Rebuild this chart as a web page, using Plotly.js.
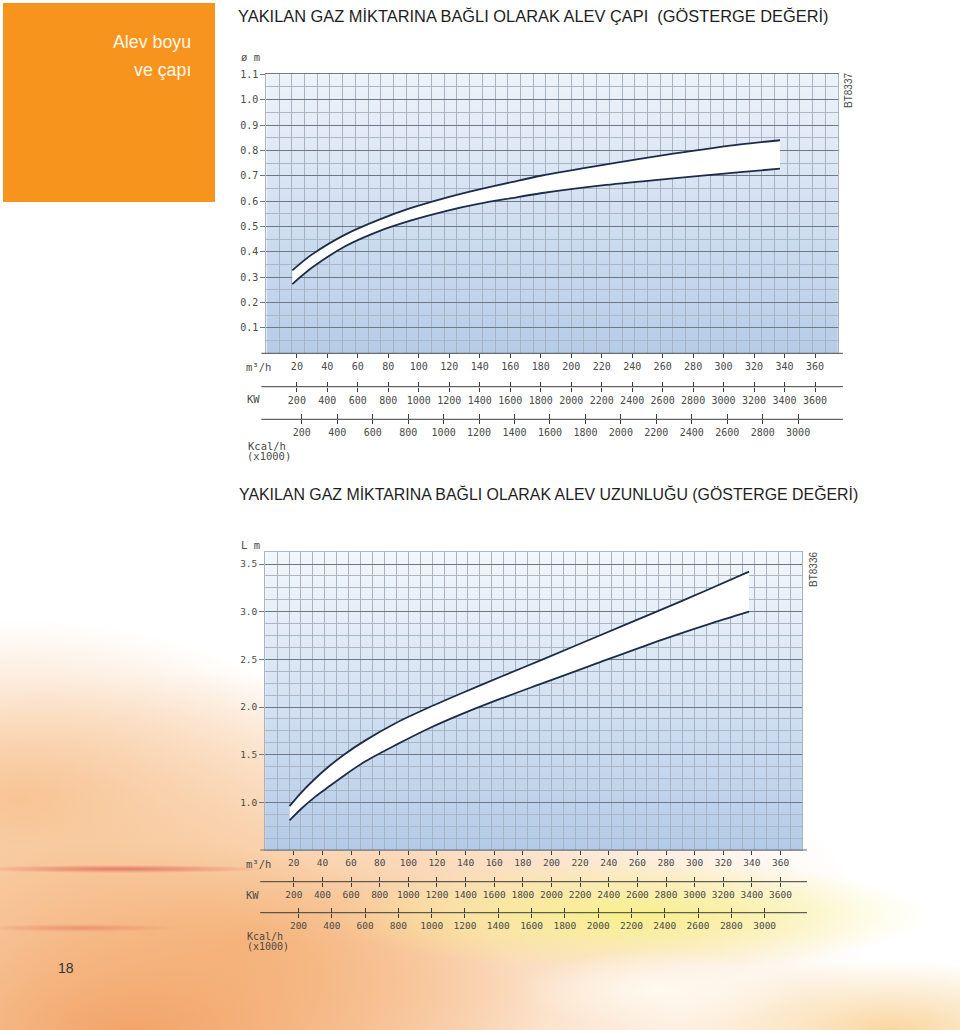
<!DOCTYPE html>
<html>
<head>
<meta charset="utf-8">
<script src="https://cdn.plot.ly/plotly-3.0.1.min.js"></script>
<style>
html,body{margin:0;padding:0;background:#fff;}
#page{position:relative;width:960px;height:1030px;overflow:hidden;background:#fff;}
#flame{position:absolute;left:0;top:0;width:960px;height:1030px;
background:
 radial-gradient(ellipse 150px 4px at 120px 869px, rgba(226,108,92,0.85), rgba(226,108,92,0) 100%),
 radial-gradient(ellipse 100px 4px at 80px 928px, rgba(230,125,100,0.65), rgba(230,125,100,0) 100%),
 radial-gradient(ellipse 140px 40px at 660px 990px, rgba(255,250,240,0.95), rgba(255,250,240,0) 100%),
 radial-gradient(ellipse 300px 55px at 630px 915px, rgba(248,240,140,1), rgba(248,240,140,0) 100%),
 radial-gradient(ellipse 220px 70px at 890px 1030px, rgba(249,212,155,0.95), rgba(249,212,155,0) 100%),
 radial-gradient(ellipse 420px 200px at 130px 1040px, rgba(242,162,100,1), rgba(242,162,100,0) 100%),
 radial-gradient(ellipse 620px 270px at 250px 940px, rgba(247,192,140,1), rgba(247,192,140,0) 100%),
 radial-gradient(ellipse 330px 180px at 20px 800px, rgba(247,198,152,1), rgba(247,198,152,0) 100%),
 #ffffff;}
#chart{position:absolute;left:0;top:0;width:960px;height:1030px;}
</style>
</head>
<body>
<div id="page"><div id="flame"></div><div id="chart"></div></div>
<script>
// ---------- data ----------
const flowTicks = [20,40,60,80,100,120,140,160,180,200,220,240,260,280,300,320,340,360];
const kwTicks = [200,400,600,800,1000,1200,1400,1600,1800,2000,2200,2400,2600,2800,3000,3200,3400,3600];
const kcalTicks = [200,400,600,800,1000,1200,1400,1600,1800,2000,2200,2400,2600,2800,3000];
const diameterTicks = [0.1,0.2,0.3,0.4,0.5,0.6,0.7,0.8,0.9,1.0,1.1];
const lengthTicks = [1.0,1.5,2.0,2.5,3.0,3.5];

// flame diameter (m) vs gas flow (m3/h)
const diaFlow  = [17, 30, 52, 74, 95, 117, 139, 161, 180, 223, 267, 311, 337];
const diaUpper = [0.327, 0.390, 0.469, 0.527, 0.573, 0.612, 0.645, 0.675, 0.700, 0.745, 0.787, 0.824, 0.840];
const diaLower = [0.273, 0.338, 0.423, 0.482, 0.524, 0.560, 0.589, 0.612, 0.631, 0.664, 0.690, 0.714, 0.728];

// flame length (m) vs gas flow (m3/h)
const lenFlow  = [17, 25, 35, 44, 55, 70, 91, 115, 138, 165, 194, 232, 278, 310, 338];
const lenUpper = [0.96, 1.10, 1.25, 1.37, 1.50, 1.65, 1.83, 2.00, 2.15, 2.32, 2.50, 2.74, 3.03, 3.235, 3.42];
const lenLower = [0.81, 0.93, 1.06, 1.16, 1.28, 1.43, 1.60, 1.78, 1.93, 2.09, 2.25, 2.46, 2.71, 2.87, 3.00];

// unit conversions for the secondary scales
const KW_PER_FLOW = 10;            // kW per m3/h of gas
const KCAL_PER_FLOW = 10 / 1.163;  // (x1000 kcal/h) per m3/h
const FLOW_RANGE = [0, 375];
const GRID_STEP = 25 / 3;

// ---------- styling / layout ----------
const W = 960, H = 1030;
const px = v => v / W;
const py = v => 1 - v / H;
const MONO = 'DejaVu Sans Mono, Liberation Mono, monospace';
const SANS = 'Liberation Sans, Arial, Helvetica, sans-serif';
const VGRID = '#a7b3c1', MGRID = '#abb7c4', HGRID = '#6e7986';
const AXIS = '#3c3c3c', LABEL = '#4a4a4a', CURVE = '#1d2c46';

function gradSrc(c1, c2) {
  const svg = '<svg xmlns="http://www.w3.org/2000/svg" width="20" height="200" viewBox="0 0 20 200" preserveAspectRatio="none">' +
    '<defs><linearGradient id="g" x1="0" y1="0" x2="0" y2="1">' +
    '<stop offset="0" stop-color="' + c1 + '"/><stop offset="1" stop-color="' + c2 + '"/>' +
    '</linearGradient></defs><rect width="20" height="200" fill="url(#g)"/></svg>';
  return 'data:image/svg+xml;charset=utf-8,' + encodeURIComponent(svg);
}

const charts = [
  {x0: 266.4, x1: 837.9, top: 74.3, bottom: 353.3, yRange: [0, 1.1], yTicks: diameterTicks, yMinor: 0.05,
   kwLine: 386.7, kcalLine: 419.3, font: 10, flow: diaFlow, upper: diaUpper, lower: diaLower,
   c1: '#eef3fa', c2: '#b5cce8', edge: HGRID},
  {x0: 265.2, x1: 802.0, top: 552.1, bottom: 850.0, yRange: [0.5, 3.625], yTicks: lengthTicks, yMinor: 0.125,
   kwLine: 881.7, kcalLine: 912.7, font: 9.5, flow: lenFlow, upper: lenUpper, lower: lenLower,
   c1: '#f3f7fc', c2: '#b3cbe8', edge: MGRID}
];

const layout = {
  width: W, height: H, margin: {l: 0, r: 0, t: 0, b: 0},
  paper_bgcolor: 'rgba(0,0,0,0)', plot_bgcolor: 'rgba(0,0,0,0)',
  showlegend: false, hovermode: false,
  shapes: [], annotations: [], images: []
};
const traces = [];
const xName = n => n === 1 ? 'xaxis' : 'xaxis' + n;
const xId = n => n === 1 ? 'x' : 'x' + n;

function hline(y, xa, xb, color, width) {
  layout.shapes.push({type: 'line', xref: 'paper', yref: 'paper', x0: px(xa), x1: px(xb), y0: py(y), y1: py(y),
    line: {color: color, width: width}, layer: 'above'});
}

charts.forEach((c, i) => {
  const gx = i * 6 + 1;
  const yName = i === 0 ? 'yaxis' : 'yaxis' + (i + 1);
  const yId = i === 0 ? 'y' : 'y' + (i + 1);
  const tf = {family: MONO, size: c.font, color: LABEL};
  const common = {showgrid: false, zeroline: false, fixedrange: true};
  // invisible carrier so that every secondary scale is drawn
  const carrier = (axisNum, vals) => traces.push({
    x: vals, y: vals.map(() => null), xaxis: xId(axisNum), yaxis: yId,
    type: 'scatter', mode: 'markers', marker: {opacity: 0}, hoverinfo: 'skip', showlegend: false
  });

  layout[xName(gx)] = Object.assign({}, common, {
    domain: [px(c.x0), px(c.x1)], range: FLOW_RANGE, anchor: yId,
    tickmode: 'linear', tick0: 0, dtick: GRID_STEP, showgrid: true, gridcolor: VGRID, gridwidth: 1,
    showticklabels: false, ticks: '', showline: true, mirror: true, linecolor: c.edge, linewidth: 1
  });
  layout[xName(gx + 1)] = Object.assign({}, common, {
    overlaying: xId(gx), anchor: yId, side: 'bottom', range: FLOW_RANGE,
    tickmode: 'array', tickvals: flowTicks, ticktext: flowTicks.map(String),
    ticks: 'outside', ticklen: 4, tickcolor: AXIS, tickwidth: 1,
    showline: false, tickfont: tf
  });
  carrier(gx + 1, flowTicks);
  hline(c.bottom, c.x0 - 5, c.x1 + 5, '#6a6a6a', 1.2);
  const kwRange = FLOW_RANGE.map(v => v * KW_PER_FLOW);
  const kcalRange = FLOW_RANGE.map(v => v * KCAL_PER_FLOW);
  [[kwRange, kwTicks, c.kwLine, gx + 2], [kcalRange, kcalTicks, c.kcalLine, gx + 4]].forEach(a => {
    layout[xName(a[3])] = Object.assign({}, common, {
      overlaying: xId(gx), anchor: 'free', position: py(a[2]), side: 'bottom', range: a[0],
      tickmode: 'array', tickvals: a[1], ticks: 'inside', ticklen: 5, tickcolor: AXIS, tickwidth: 1,
      showticklabels: false, showline: false
    });
    layout[xName(a[3] + 1)] = Object.assign({}, common, {
      overlaying: xId(gx), anchor: 'free', position: py(a[2]), side: 'bottom', range: a[0],
      tickmode: 'array', tickvals: a[1], ticktext: a[1].map(String), ticks: 'outside', ticklen: 4,
      tickcolor: AXIS, tickwidth: 1, showticklabels: true, showline: false, tickfont: tf
    });
    carrier(a[3], a[1]);
    carrier(a[3] + 1, a[1]);
    hline(a[2], c.x0 - 5, c.x1 + 5, AXIS, 1);
  });
  // minor horizontal grid positions that do not coincide with the labelled lines
  const minorVals = [];
  for (let k = 1; c.yRange[0] + k * c.yMinor < c.yRange[1] - 1e-9; k++) {
    const v = +(c.yRange[0] + k * c.yMinor).toFixed(4);
    const isMajor = c.yTicks.some(t => Math.abs(t - v) < 1e-6);
    if (!isMajor) minorVals.push(v);
  }
  layout[yName] = {
    domain: [py(c.bottom), py(c.top)], range: c.yRange, anchor: xId(gx), fixedrange: true,
    tickmode: 'array', tickvals: c.yTicks, ticktext: c.yTicks.map(v => v.toFixed(1)),
    ticks: 'outside', ticklen: 5, tickcolor: HGRID, tickwidth: 1,
    showgrid: true, gridcolor: HGRID, gridwidth: 1,
    minor: {tickmode: 'array', tickvals: minorVals, showgrid: true, gridcolor: MGRID, gridwidth: 1, ticks: ''},
    showline: true, mirror: true, linecolor: VGRID, linewidth: 1, zeroline: false, tickfont: tf
  };
  layout.images.push({
    source: gradSrc(c.c1, c.c2), xref: xId(gx) + ' domain', yref: yId + ' domain',
    x: 0, y: 1, sizex: 1, sizey: 1, xanchor: 'left', yanchor: 'top', sizing: 'stretch', layer: 'below'
  });
  const line = {color: CURVE, width: 1.8, shape: 'spline', smoothing: 0.8};
  traces.push({x: c.flow, y: c.lower, xaxis: xId(gx), yaxis: yId, type: 'scatter', mode: 'lines', line: line, hoverinfo: 'skip'});
  traces.push({x: c.flow, y: c.upper, xaxis: xId(gx), yaxis: yId, type: 'scatter', mode: 'lines', line: line,
               fill: 'tonexty', fillcolor: '#ffffff', hoverinfo: 'skip'});
});

// orange side box
layout.shapes.push({type: 'rect', xref: 'paper', yref: 'paper', x0: px(3), x1: px(215), y0: py(202), y1: py(3),
  fillcolor: '#f7941e', line: {width: 0}, layer: 'below'});

function ann(text, x, y, opts) {
  layout.annotations.push(Object.assign({
    text: text, x: px(x), y: py(y), xref: 'paper', yref: 'paper', showarrow: false,
    xanchor: 'left', yanchor: 'middle', font: {family: MONO, size: 10.5, color: LABEL}
  }, opts || {}));
}
ann('YAKILAN GAZ MİKTARINA BAĞLI OLARAK ALEV ÇAPI\u00a0 (GÖSTERGE DEĞERİ)', 236, 16, {font: {family: SANS, size: 16.4, color: '#1e1e1e'}});
ann('YAKILAN GAZ MİKTARINA BAĞLI OLARAK ALEV UZUNLUĞU (GÖSTERGE DEĞERİ)', 237, 494, {font: {family: SANS, size: 15.9, color: '#1e1e1e'}});
ann('Alev boyu', 193, 42, {xanchor: 'right', font: {family: SANS, size: 17.8, color: '#fff6ea'}});
ann('ve çapı', 193, 70, {xanchor: 'right', font: {family: SANS, size: 17.8, color: '#fff6ea'}});
ann('ø m', 239, 57);
ann('L m', 239, 545);
ann('m³/h', 244, 366.5);
ann('KW', 245, 399);
ann('Kcal/h', 246, 445.5);
ann('(x1000)', 245, 455.5);
ann('m³/h', 244, 864);
ann('KW', 244, 894.5);
ann('Kcal/h', 245, 936, {font: {family: MONO, size: 10, color: LABEL}});
ann('(x1000)', 245, 946.5, {font: {family: MONO, size: 10, color: LABEL}});
ann('BT8337', 848, 91, {xanchor: 'center', textangle: -90, font: {family: SANS, size: 10, color: '#4a4a4a'}});
ann('BT8336', 813, 570, {xanchor: 'center', textangle: -90, font: {family: SANS, size: 10, color: '#4a4a4a'}});
ann('18', 66, 968, {xanchor: 'center', font: {family: SANS, size: 14, color: '#333333'}});

Plotly.newPlot('chart', traces, layout, {staticPlot: true, displayModeBar: false});
</script>
</body>
</html>
